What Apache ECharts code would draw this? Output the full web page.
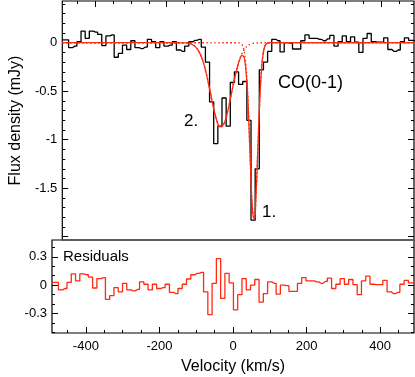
<!DOCTYPE html>
<html>
<head>
<meta charset="utf-8">
<script src="https://cdn.jsdelivr.net/npm/echarts@6.0.0/dist/echarts.min.js"></script>
<style>
  html, body { margin: 0; padding: 0; background: #fff; }
  #chart { width: 415px; height: 377px; }
</style>
</head>
<body>
<div id="chart"></div>
<script>
// channel centres (km/s)
const velocity = [
  -491.8, -480.2, -468.6, -457.0, -445.4, -433.8, -422.2, -410.6, -399.0, -387.4,
  -375.8, -364.2, -352.6, -341.0, -329.4, -317.8, -306.2, -294.6, -283.0, -271.4,
  -259.8, -248.2, -236.6, -225.0, -213.4, -201.8, -190.2, -178.6, -167.0, -155.4,
  -143.8, -132.2, -120.6, -109.0, -97.4, -85.8, -74.2, -62.6, -51.0, -39.4,
  -27.8, -16.2, -4.6, 7.0, 18.6, 30.2, 41.8, 53.4, 65.0, 76.6,
  88.2, 99.8, 111.4, 123.0, 134.6, 146.2, 157.8, 169.4, 181.0, 192.6,
  204.2, 215.8, 227.4, 239.0, 250.6, 262.2, 273.8, 285.4, 297.0, 308.6,
  320.2, 331.8, 343.4, 355.0, 366.6, 378.2, 389.8, 401.4, 413.0, 424.6,
  436.2, 447.8, 459.4, 471.0, 482.6, 494.2
]

// observed spectrum (mJy)
const flux = [
  0.03, 0.03, -0.05, -0.035, 0.01, 0.12, 0.045, 0.12, 0.11, 0.085,
  -0.03, 0.07, 0.08, -0.15, -0.11, -0.025, -0.07, 0.02, -0.05, -0.06,
  -0.045, 0.035, 0.01, -0.05, 0.01, -0.035, -0.025, 0.01, -0.075, -0.09,
  -0.035, 0.01, 0.025, 0.035, -0.045, -0.2, -0.61, -1.04, -0.86, -0.57,
  -0.86, -0.41, -0.3, -0.43, -0.4, -0.8, -1.83, -1.3, -0.28, -0.2,
  -0.09, 0.035, 0.02, -0.095, 0.0, -0.005, -0.065, -0.065, 0.02, 0.08,
  0.045, 0.045, 0.035, 0.02, 0.04, 0.075, -0.035, 0.01, 0.07, 0.01,
  0.06, 0.005, -0.1, 0.045, 0.095, 0.01, 0.005, 0.005, 0.05, -0.07,
  -0.09, -0.075, 0.01, 0.05, 0.025, 0.02
]

// residuals after fit (mJy)
const residual = [
  0.03, 0.03, -0.05, -0.035, 0.03, 0.12, 0.045, 0.12, 0.11, 0.085,
  -0.03, 0.07, 0.08, -0.15, -0.11, -0.025, -0.07, 0.02, -0.05, -0.06,
  -0.045, 0.035, 0.01, -0.05, 0.01, -0.035, -0.025, 0.01, -0.075, -0.09,
  -0.035, 0.01, 0.065, 0.11, 0.125, 0.135, -0.07, -0.31, 0.02, 0.28,
  -0.14, 0.125, 0.025, -0.26, -0.1, 0.07, -0.05, 0.0, 0.06, -0.18,
  -0.09, 0.035, 0.02, -0.095, 0.0, -0.005, -0.065, -0.065, 0.02, 0.08,
  0.045, 0.045, 0.035, 0.02, 0.04, 0.075, -0.035, 0.01, 0.07, 0.01,
  0.06, 0.005, -0.1, 0.045, 0.095, 0.01, 0.005, 0.005, 0.05, -0.07,
  -0.09, -0.075, 0.01, 0.05, 0.025, 0.02
]

// fitted model
const modelVelocity = [
  -492, -200, -160, -150, -140, -130, -120, -110, -100, -90,
  -80, -70, -60, -50, -40, -30, -20, -10, 0, 5,
  10, 15, 20, 25, 30, 35, 40, 45, 50, 55,
  60, 65, 70, 75, 80, 85, 90, 100, 492
]
const modelTotal = [
  0, 0, -0.001, -0.002, -0.006, -0.016, -0.04, -0.089, -0.174, -0.305,
  -0.473, -0.652, -0.799, -0.868, -0.838, -0.718, -0.546, -0.369, -0.222, -0.167,
  -0.133, -0.138, -0.224, -0.447, -0.833, -1.317, -1.713, -1.818, -1.571, -1.106,
  -0.633, -0.294, -0.111, -0.034, -0.009, -0.002, 0, 0, 0
]
const modelLine1 = [
  0, 0, 0, 0, 0, 0, 0, 0, 0, 0,
  0, 0, 0, 0, 0, 0, 0, 0, -0.001, -0.003,
  -0.015, -0.056, -0.169, -0.41, -0.81, -1.302, -1.704, -1.813, -1.568, -1.104,
  -0.632, -0.294, -0.111, -0.034, -0.009, -0.002, 0, 0, 0
]
const modelLine2 = [
  0, 0, -0.001, -0.002, -0.006, -0.016, -0.04, -0.089, -0.174, -0.305,
  -0.473, -0.652, -0.799, -0.868, -0.838, -0.718, -0.546, -0.369, -0.221, -0.164,
  -0.118, -0.082, -0.056, -0.037, -0.023, -0.015, -0.009, -0.005, -0.003, -0.002,
  -0.001, 0, 0, 0, 0, 0, 0, 0, 0
]

// ticks
const velTicks = [-400, -200, 0, 200, 400]
const velMinorTicks = [-450, -350, -300, -250, -150, -100, -50, 50, 100, 150, 250, 300, 350, 450]
const fluxTicks = [0, -0.5, -1, -1.5, -2]
const fluxLabels = [0, -0.5, -1, -1.5]
const fluxMinorTicks = [0.4, 0.3, 0.2, 0.1, -0.1, -0.2, -0.3, -0.4, -0.6, -0.7, -0.8, -0.9,
  -1.1, -1.2, -1.3, -1.4, -1.6, -1.7, -1.8, -1.9]
const residTicks = [0.3, 0, -0.3]
const residMinorTicks = [0.4, 0.2, 0.1, -0.1, -0.2, -0.4, -0.5]

const chart = echarts.init(document.getElementById('chart'))
const font = '"Liberation Sans", Arial, Helvetica, sans-serif'
const VMIN = -492, VMAX = 492
const FMIN = -2.034, FMAX = 0.43
const RMIN = -0.505, RMAX = 0.477
const RED = '#ff2a10'

const pairs = (xs, ys) => xs.map((x, i) => [x, ys[i]])

// axis that only carries inward ticks (line kept but invisible, ticks need it)
const tickAxis = (gridIndex, position, min, max, values, length) => ({
  type: 'value',
  gridIndex,
  position,
  min,
  max,
  axisLine: { show: true, onZero: false, lineStyle: { color: 'rgba(0,0,0,0)', width: 1 } },
  axisTick: { show: true, inside: true, length, customValues: values, lineStyle: { color: '#000', width: 1 } },
  axisLabel: { show: false },
  splitLine: { show: false }
})

const labelStyle = { color: '#000', fontSize: 13, fontFamily: font }

const xAxes = [
  // upper panel, bottom = grey divider
  {
    type: 'value', gridIndex: 0, position: 'bottom', min: VMIN, max: VMAX,
    axisLine: { show: true, onZero: false, lineStyle: { color: '#666', width: 1.6 } },
    axisTick: { show: false }, axisLabel: { show: false }, splitLine: { show: false }
  },
  tickAxis(0, 'top', VMIN, VMAX, velTicks, 6),
  tickAxis(0, 'top', VMIN, VMAX, velMinorTicks, 3),
  // lower panel bottom with labels
  {
    ...tickAxis(1, 'bottom', VMIN, VMAX, velTicks, 6),
    axisLabel: { show: true, customValues: velTicks.slice(), margin: 7, ...labelStyle },
    name: 'Velocity (km/s)',
    nameLocation: 'middle',
    nameGap: 26,
    nameTextStyle: { color: '#000', fontSize: 16, fontFamily: font }
  },
  tickAxis(1, 'bottom', VMIN, VMAX, velMinorTicks, 3)
]

const yAxes = [
  {
    ...tickAxis(0, 'left', FMIN, FMAX, fluxTicks, 6),
    axisLabel: { show: true, customValues: fluxLabels, margin: 5, ...labelStyle },
    name: 'Flux density (mJy)',
    nameLocation: 'middle',
    nameGap: 34,
    nameTextStyle: { color: '#000', fontSize: 16, fontFamily: font }
  },
  tickAxis(0, 'left', FMIN, FMAX, fluxMinorTicks, 3),
  tickAxis(0, 'right', FMIN, FMAX, fluxTicks, 6),
  tickAxis(0, 'right', FMIN, FMAX, fluxMinorTicks, 3),
  {
    ...tickAxis(1, 'left', RMIN, RMAX, residTicks, 6),
    axisLabel: { show: true, customValues: residTicks.slice(), margin: 5, ...labelStyle }
  },
  tickAxis(1, 'left', RMIN, RMAX, residMinorTicks, 3),
  tickAxis(1, 'right', RMIN, RMAX, residTicks, 6),
  tickAxis(1, 'right', RMIN, RMAX, residMinorTicks, 3)
]

const option = {
  animation: false,
  backgroundColor: '#fff',
  grid: [
    { left: 52, right: 1, top: 1, height: 239, show: true, borderColor: '#000', borderWidth: 1.2, backgroundColor: 'transparent' },
    { left: 52, right: 1, top: 240, height: 93, show: true, borderColor: '#000', borderWidth: 1.2, backgroundColor: 'transparent' }
  ],
  xAxis: xAxes,
  yAxis: yAxes,
  graphic: [
    { type: 'text', x: 278, y: 83, style: { text: 'CO(0-1)', font: '18px ' + font, fill: '#000', verticalAlign: 'middle' } },
    { type: 'text', x: 184, y: 121, style: { text: '2.', font: '17px ' + font, fill: '#000', verticalAlign: 'middle' } },
    { type: 'text', x: 262, y: 212, style: { text: '1.', font: '17px ' + font, fill: '#000', verticalAlign: 'middle' } },
    { type: 'text', x: 63, y: 257, style: { text: 'Residuals', font: '15px ' + font, fill: '#000', verticalAlign: 'middle' } }
  ],
  series: [
    {
      type: 'line', name: 'data', xAxisIndex: 0, yAxisIndex: 0,
      data: pairs(velocity, flux), step: 'middle', symbol: 'none',
      lineStyle: { color: '#000', width: 1.3 }, z: 2
    },
    {
      type: 'line', name: 'line 2', xAxisIndex: 0, yAxisIndex: 0,
      data: pairs(modelVelocity, modelLine2), smooth: true, symbol: 'none',
      lineStyle: { color: RED, width: 1.4, type: [1.5, 2.5] }, z: 3
    },
    {
      type: 'line', name: 'line 1', xAxisIndex: 0, yAxisIndex: 0,
      data: pairs(modelVelocity, modelLine1), smooth: true, symbol: 'none',
      lineStyle: { color: RED, width: 1.4, type: [1.5, 2.5] }, z: 3
    },
    {
      type: 'line', name: 'model', xAxisIndex: 0, yAxisIndex: 0,
      data: pairs(modelVelocity, modelTotal), smooth: true, symbol: 'none',
      lineStyle: { color: RED, width: 1.3 }, z: 4
    },
    {
      type: 'line', name: 'residuals', xAxisIndex: 3, yAxisIndex: 4,
      data: pairs(velocity, residual), step: 'middle', symbol: 'none',
      lineStyle: { color: RED, width: 1.3 }, z: 2
    }
  ]
}

chart.setOption(option)
</script>
</body>
</html>
